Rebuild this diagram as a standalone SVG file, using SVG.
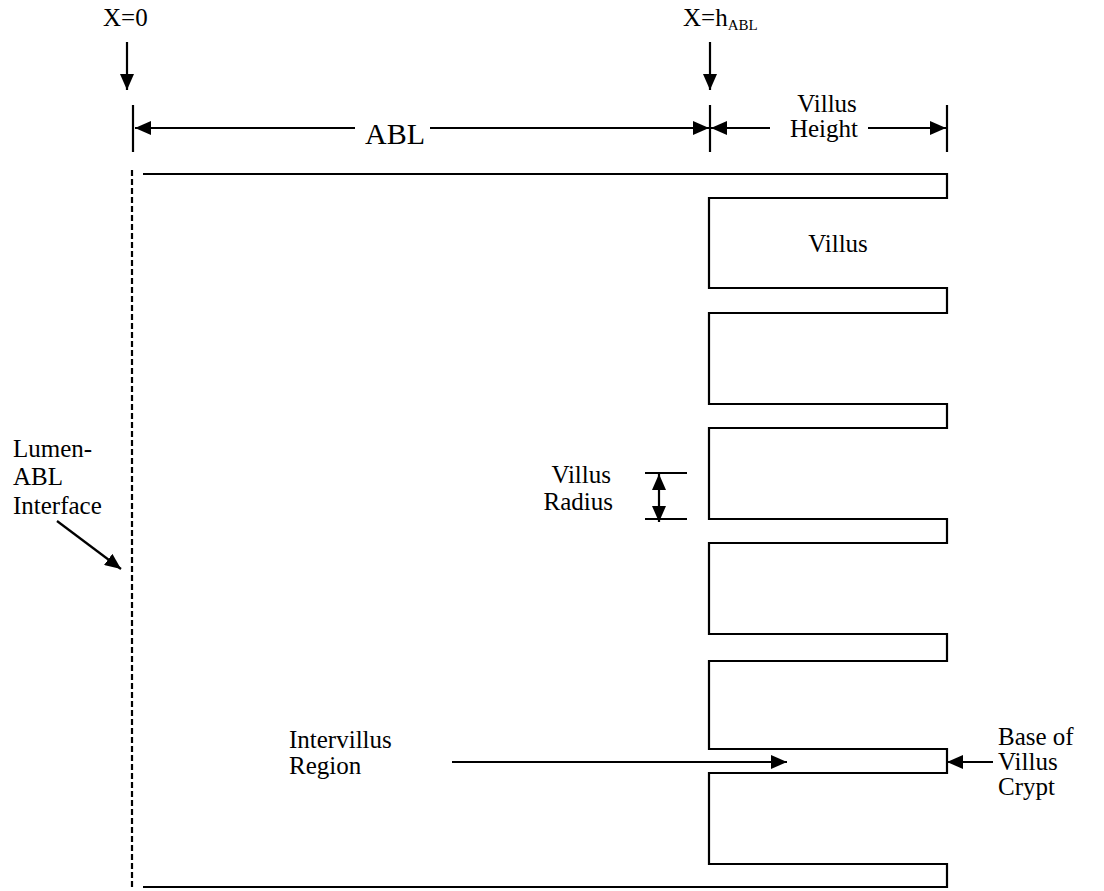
<svg xmlns="http://www.w3.org/2000/svg" width="1104" height="891" viewBox="0 0 1104 891">
<style>
  text { font-family: "Liberation Serif", "Times New Roman", serif; font-size: 25px; fill: #000; }
  text.big { font-size: 30px; }
  .ln { stroke: #000; stroke-width: 2.2; fill: none; }
  .arr { stroke: #000; stroke-width: 2.2; fill: none; marker-end: url(#ah); }
</style>
<defs>
  <marker id="ah" markerUnits="userSpaceOnUse" markerWidth="16" markerHeight="14" refX="16" refY="7" orient="auto">
    <path d="M0,0 L16,7 L0,14 z" fill="#000"/>
  </marker>
</defs>
<rect width="1104" height="891" fill="#fff"/>

<g id="geometry">
  <path id="villi-outline" class="ln" d="M143,174 H947 V198 H709 V288 H947 V313 H709 V404 H947 V428 H709 V519 H947 V543 H709 V634 H947 V661 H709 V749 H947 V773 H709 V864 H947 V887 H143"/>
  <line id="lumen-interface" class="ln" x1="132" y1="170" x2="132" y2="887" stroke-dasharray="6 3"/>
</g>

<g id="connectors">
  <line class="arr" x1="127" y1="42" x2="127" y2="90"/>
  <line class="arr" x1="710" y1="42" x2="710" y2="90"/>
  <line class="ln" x1="133" y1="105" x2="133" y2="152"/>
  <line class="ln" x1="710" y1="105" x2="710" y2="152"/>
  <line class="ln" x1="947" y1="105" x2="947" y2="152"/>
  <line class="arr" x1="355" y1="128" x2="135" y2="128"/>
  <line class="arr" x1="430" y1="128" x2="709" y2="128"/>
  <line class="arr" x1="770" y1="128" x2="711" y2="128"/>
  <line class="arr" x1="868" y1="128" x2="946" y2="128"/>
  <line class="ln" x1="645" y1="473" x2="687" y2="473"/>
  <line class="ln" x1="645" y1="519" x2="687" y2="519"/>
  <line class="arr" x1="659" y1="496" x2="659" y2="474"/>
  <line class="arr" x1="659" y1="496" x2="659" y2="522"/>
  <line class="arr" x1="57" y1="521" x2="121" y2="569"/>
  <line class="arr" x1="452" y1="762" x2="787" y2="762"/>
  <line class="arr" x1="993" y1="762" x2="947" y2="762"/>
</g>

<g id="label-x0"><text x="103" y="26">X=0</text></g>
<g id="label-xh"><text x="683" y="26">X=h<tspan font-size="15" dy="4">ABL</tspan></text></g>
<g id="label-abl"><text class="big" x="395" y="144" text-anchor="middle">ABL</text></g>
<g id="label-villus-height">
  <text x="827" y="112" text-anchor="middle">Villus</text>
  <text x="824" y="137" text-anchor="middle">Height</text>
</g>
<g id="label-villus"><text x="838" y="252" text-anchor="middle">Villus</text></g>
<g id="label-villus-radius">
  <text x="611" y="483" text-anchor="end">Villus</text>
  <text x="613" y="510" text-anchor="end">Radius</text>
</g>
<g id="label-lumen">
  <text x="13" y="457">Lumen-</text>
  <text x="13" y="485">ABL</text>
  <text x="13" y="514">Interface</text>
</g>
<g id="label-intervillus">
  <text x="289" y="748">Intervillus</text>
  <text x="289" y="774">Region</text>
</g>
<g id="label-base">
  <text x="998" y="745">Base of</text>
  <text x="998" y="770">Villus</text>
  <text x="998" y="795">Crypt</text>
</g>
</svg>
